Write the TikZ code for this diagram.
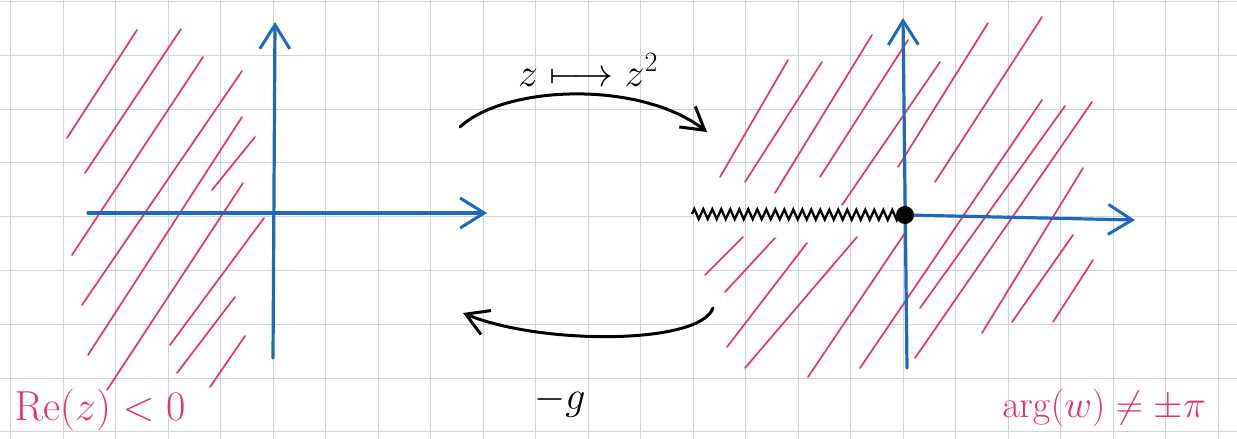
\RequirePackage{fix-cm}
\documentclass[tikz,border=0pt]{standalone}
\usetikzlibrary{arrows.meta,decorations.pathmorphing}
\definecolor{pinkink}{RGB}{232,48,122}
\definecolor{blueink}{RGB}{30,105,190}
\definecolor{gridc}{RGB}{206,213,213}
\begin{document}
\begin{tikzpicture}[x=1pt,y=-1pt,
  gridline/.style={gridc, line width=0.9pt},
  hatch/.style={pinkink, line width=1.7pt, line cap=round},
  axis/.style={blueink, line width=3.2pt, line cap=round,
    -{Straight Barb[length=24pt,width=30pt,line width=3pt]}},
  maparrow/.style={black, line width=3pt, line cap=round,
    -{Straight Barb[length=22pt,width=26pt,line width=3pt]}},
  cut/.style={black, line width=2.3pt, decorate,
    decoration={zigzag, segment length=9pt, amplitude=5pt}},
  pinklab/.style={pinkink, inner sep=0pt},
  blacklab/.style={black, inner sep=0pt},
]
\useasboundingbox (0,0) rectangle (1237,439);
\fill[white] (0,0) rectangle (1237,439);
% grid paper
\foreach \i in {0,...,23} \draw[gridline] ({10.5+52.5*\i},0) -- ++(0,439);
\foreach \j in {0,...,8} \draw[gridline] (0,{1.5+53.8*\j}) -- ++(1237,0);

% left hatching  Re(z)<0
\foreach \a/\b/\c/\d in {137/30/67/138, 181/29/85/173, 203/57/72/255, 242/71/82/305,
  242/117/88/355, 255/137/212/190, 243/183/107/390, 264/218/170/345,
  235/297/177/373, 245/336/210/387}
  \draw[hatch] (\a,\b) -- (\c,\d);

% right hatching
\foreach \a/\b/\c/\d in {788/60/720/177, 822/62/745/182, 872/35/775/193, 908/40/820/177,
  940/62/842/205, 988/23/898/167, 1042/17/935/182, 1042/100/860/368,
  1065/106/920/308, 1092/102/915/358, 1083/168/982/333, 1073/235/1012/322,
  1093/260/1053/322, 743/237/705/275, 775/238/725/292, 807/243/727/347,
  857/237/745/368, 905/233/808/377}
  \draw[hatch] (\a,\b) -- (\c,\d);

% left axes
\coordinate (LxS) at (88,213);
\coordinate (LxE) at (487,213);
\coordinate (LyS) at (273,358);
\coordinate (LyE) at (275,22);
\draw[axis] (LxS) -- (LxE);
\draw[axis] (LyS) -- (LyE);

% right axes
\coordinate (RxS) at (905,215);
\coordinate (RxE) at (1135,220);
\coordinate (RyS) at (907,368);
\coordinate (RyE) at (903,18);
\draw[axis] (RxS) -- (RxE);
\draw[axis] (RyS) -- (RyE);

% branch cut and origin
\coordinate (cutS) at (692,214);
\coordinate (Oc) at (905,215);
\draw[cut] (cutS) -- (Oc);
\node[circle, fill=black, inner sep=0pt, minimum size=18pt] (O) at (Oc) {};

% mapping arrows
\coordinate (topS) at (460,127);
\coordinate (topE) at (707,132);
\draw[maparrow] (topS) .. controls (505,85) and (640,80) .. (topE);
\coordinate (botS) at (713,308);
\coordinate (botE) at (463,313);
\draw[maparrow] (botS) .. controls (700,345) and (540,345) .. (botE);

% labels
\node[blacklab, font=\fontsize{40}{48}\selectfont] (f) at (588,70) {$z\longmapsto z^{2}$};
\node[blacklab, font=\fontsize{40}{48}\selectfont] (g) at (560,402) {$-g$};
\node[pinklab, font=\fontsize{42}{50}\selectfont] (re) at (100,410) {$\mathrm{Re}(z)<0$};
\node[pinklab, font=\fontsize{38}{46}\selectfont] (arg) at (1104,408) {$\arg(w)\neq\pm\pi$};
\end{tikzpicture}
\end{document}
